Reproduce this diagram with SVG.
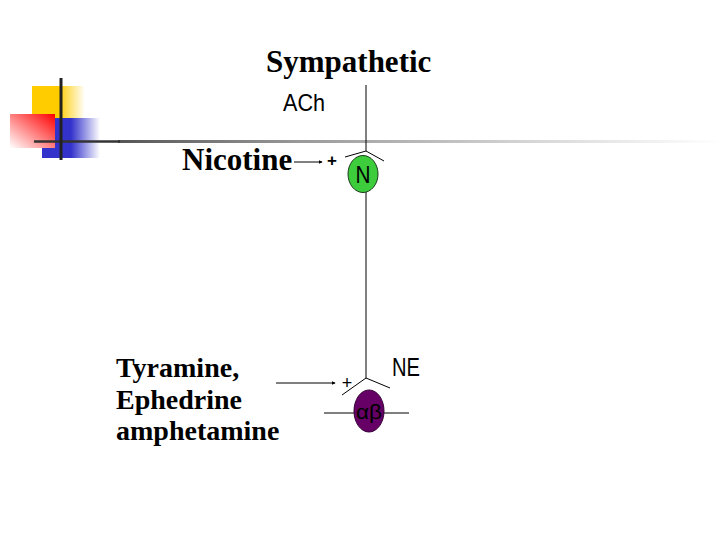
<svg xmlns="http://www.w3.org/2000/svg" width="720" height="540" viewBox="0 0 720 540">
<defs>
<linearGradient id="gy" x1="0" y1="0" x2="1" y2="0"><stop offset="0" stop-color="#ffcc00"/><stop offset="0.5" stop-color="#ffcc00"/><stop offset="1" stop-color="#ffffff"/></linearGradient>
<linearGradient id="gr" x1="1" y1="0" x2="0" y2="1"><stop offset="0" stop-color="#ff0000"/><stop offset="1" stop-color="#ffffff"/></linearGradient>
<linearGradient id="gb" x1="0" y1="0" x2="1" y2="0"><stop offset="0" stop-color="#3333cc"/><stop offset="0.5" stop-color="#3333cc"/><stop offset="1" stop-color="#ffffff"/></linearGradient>
<linearGradient id="gl" x1="0" y1="0" x2="1" y2="0"><stop offset="0" stop-color="#555555"/><stop offset="0.3" stop-color="#999999"/><stop offset="0.7" stop-color="#d8d8d8"/><stop offset="1" stop-color="#ffffff"/></linearGradient>
<marker id="ah" viewBox="0 0 6 6" refX="5" refY="3" markerWidth="4" markerHeight="4" orient="auto"><path d="M0,0 L6,3 L0,6 z" fill="#000"/></marker>
<style>
.ser{font-family:"Liberation Serif","Times New Roman",serif;font-weight:bold;fill:#000}
.san{font-family:"Liberation Sans","DejaVu Sans",sans-serif;fill:#000}
.ln{stroke:#000;stroke-width:1;fill:none}
</style>
</defs>
<g id="decor">
<rect x="32" y="86" width="53" height="33" fill="url(#gy)"/>
<rect x="42" y="118" width="58" height="40" fill="url(#gb)"/>
<rect x="10" y="114" width="45" height="34" fill="url(#gr)"/>
<rect x="118" y="140" width="602" height="3" fill="url(#gl)"/>
<line x1="34" y1="141.5" x2="120" y2="141.5" stroke="#333" stroke-width="2.5"/>
<line x1="61" y1="78" x2="61" y2="160" stroke="#222" stroke-width="3"/>
</g>
<g id="title"><text class="ser" x="266" y="72" font-size="31">Sympathetic</text></g>
<g id="ach"><text class="san" x="283" y="111" font-size="24" textLength="42" lengthAdjust="spacingAndGlyphs">ACh</text></g>
<g id="nicotine"><text class="ser" x="182" y="170" font-size="31">Nicotine</text></g>
<g id="drugs">
<text class="ser" x="116" y="377" font-size="28">Tyramine,</text>
<text class="ser" x="116" y="409" font-size="28">Ephedrine</text>
<text class="ser" x="116" y="440" font-size="28">amphetamine</text>
</g>
<g id="connectors">
<polyline class="ln" points="366,85 366,151"/>
<polyline class="ln" points="345,157 366,151 384,161"/>
<polyline class="ln" points="366,192 366,378"/>
<polyline class="ln" points="342,395 366,378 390,388"/>
<line class="ln" x1="324" y1="413" x2="409" y2="413"/>
<line class="ln" x1="294" y1="162" x2="322" y2="162" marker-end="url(#ah)"/>
<line class="ln" x1="276" y1="383" x2="335" y2="383" marker-end="url(#ah)"/>
<text class="san" x="332" y="166" font-size="17" font-weight="bold" text-anchor="middle">+</text>
<text class="san" x="347" y="389" font-size="18" text-anchor="middle">+</text>
</g>
<g id="N">
<ellipse cx="363" cy="174" rx="15" ry="18.5" fill="#3ccc3c" stroke="#1a3a1a" stroke-width="1"/>
<text class="san" x="363" y="182.5" font-size="24" text-anchor="middle" fill="#111" textLength="15" lengthAdjust="spacingAndGlyphs">N</text>
</g>
<g id="NE"><text class="san" x="392" y="376" font-size="25" textLength="28" lengthAdjust="spacingAndGlyphs">NE</text></g>
<g id="ab">
<ellipse cx="369" cy="411" rx="15" ry="21" fill="#660066" stroke="#330033" stroke-width="1"/>
<text class="san" x="369" y="419" font-size="21" text-anchor="middle" fill="#1a001a" textLength="26" lengthAdjust="spacingAndGlyphs">αβ</text>
</g>
</svg>
